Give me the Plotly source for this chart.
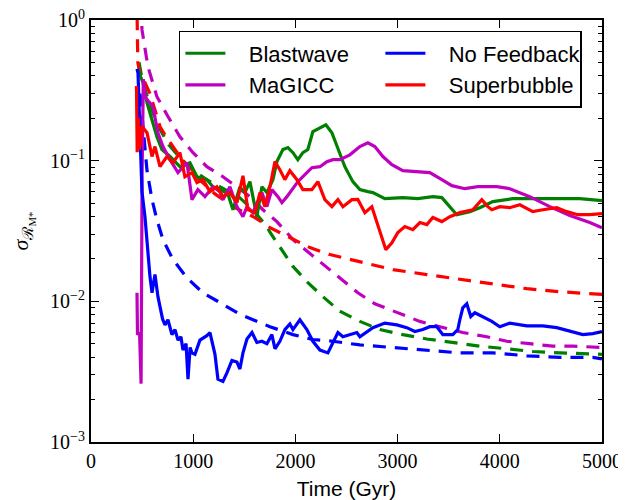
import plotly.graph_objects as go

# ---- data (time in Gyr, sigma values) ----
blast_t = [455, 509, 548, 597, 645, 694, 773, 870, 968, 1037, 1134, 1193, 1262, 1340, 1389, 1457, 1506, 1555, 1623, 1672, 1721, 1780, 1819, 1878, 1927, 1976, 2024, 2073, 2122, 2171, 2240, 2298, 2357, 2416, 2484, 2562, 2631, 2709, 2758, 2875, 3051, 3198, 3345, 3433, 3511, 3579, 3707, 3804, 3932, 4127, 4460, 4782, 5000]
blast_v = [0.45, 0.358, 0.258, 0.196, 0.148, 0.120, 0.107, 0.0906, 0.0967, 0.0769, 0.0733, 0.0653, 0.0622, 0.058, 0.0448, 0.065, 0.0593, 0.0709, 0.040, 0.0653, 0.0593, 0.0733, 0.0984, 0.120, 0.124, 0.114, 0.1016, 0.114, 0.120, 0.161, 0.172, 0.180, 0.158, 0.120, 0.0906, 0.0709, 0.0622, 0.0602, 0.0593, 0.0537, 0.0546, 0.0537, 0.0555, 0.0546, 0.0471, 0.0413, 0.0434, 0.0463, 0.0512, 0.0537, 0.0537, 0.0537, 0.0520]

magicc_t = [450, 455, 475, 490, 500, 512, 520, 535, 606, 655, 704, 773, 851, 939, 988, 1046, 1115, 1193, 1262, 1291, 1359, 1428, 1487, 1526, 1584, 1672, 1721, 1770, 1829, 1868, 1917, 1966, 2024, 2093, 2161, 2240, 2308, 2367, 2435, 2533, 2631, 2709, 2777, 2856, 2944, 3051, 3188, 3315, 3433, 3531, 3658, 3785, 3883, 3971, 4098, 4293, 4489, 4685, 4880, 5000]
magicc_v = [0.0115, 0.0058, 0.0060, 0.0026, 0.08, 0.38, 0.33, 0.28, 0.242, 0.158, 0.126, 0.1016, 0.0822, 0.0967, 0.0528, 0.0622, 0.0555, 0.0653, 0.0602, 0.0528, 0.0653, 0.0471, 0.0400, 0.0471, 0.0427, 0.0593, 0.0471, 0.0622, 0.0555, 0.0503, 0.0555, 0.0622, 0.0709, 0.0795, 0.0891, 0.0906, 0.0984, 0.1016, 0.1016, 0.110, 0.126, 0.134, 0.126, 0.107, 0.0937, 0.0849, 0.0835, 0.0822, 0.0733, 0.0664, 0.0632, 0.0653, 0.0653, 0.0653, 0.0632, 0.0555, 0.0471, 0.0407, 0.0363, 0.0334]

nofb_t = [450, 460, 479, 499, 528, 550, 577, 597, 626, 655, 700, 724, 753, 792, 822, 851, 880, 900, 930, 949, 970, 988, 1017, 1066, 1134, 1164, 1213, 1242, 1291, 1330, 1379, 1428, 1457, 1487, 1526, 1575, 1623, 1672, 1721, 1770, 1800, 1848, 1897, 1946, 1976, 2044, 2112, 2171, 2240, 2318, 2367, 2416, 2465, 2533, 2601, 2631, 2758, 2875, 2993, 3090, 3169, 3247, 3315, 3384, 3443, 3540, 3589, 3609, 3638, 3677, 3716, 3756, 3834, 3922, 4000, 4098, 4264, 4421, 4557, 4685, 4812, 4910, 5000]
nofb_v = [0.45, 0.42, 0.158, 0.060, 0.040, 0.024, 0.0150, 0.0115, 0.0155, 0.0108, 0.0075, 0.0068, 0.0074, 0.0058, 0.0063, 0.0053, 0.0056, 0.0045, 0.0050, 0.0028, 0.0047, 0.0043, 0.0042, 0.0053, 0.0057, 0.0060, 0.0042, 0.0028, 0.0027, 0.0031, 0.0038, 0.0037, 0.0033, 0.0043, 0.0054, 0.0060, 0.0051, 0.0052, 0.0050, 0.0058, 0.0046, 0.0052, 0.0063, 0.0069, 0.0063, 0.0074, 0.0063, 0.0052, 0.0045, 0.0043, 0.0051, 0.0060, 0.0056, 0.0058, 0.0060, 0.0056, 0.0065, 0.0070, 0.0068, 0.0065, 0.0061, 0.0063, 0.0066, 0.0066, 0.0058, 0.0058, 0.0063, 0.0074, 0.0090, 0.0096, 0.0078, 0.0083, 0.0078, 0.0072, 0.0066, 0.0070, 0.0067, 0.0067, 0.0065, 0.0061, 0.0058, 0.0059, 0.0061]

super_t = [445, 452, 462, 475, 499, 548, 597, 626, 675, 743, 802, 870, 919, 988, 1037, 1095, 1164, 1232, 1291, 1359, 1428, 1487, 1535, 1604, 1653, 1702, 1751, 1800, 1848, 1897, 1946, 2015, 2073, 2161, 2220, 2288, 2357, 2416, 2465, 2553, 2611, 2680, 2748, 2797, 2846, 2885, 2944, 3002, 3071, 3149, 3218, 3286, 3345, 3433, 3511, 3609, 3736, 3824, 3883, 3922, 4000, 4098, 4196, 4323, 4421, 4557, 4655, 4763, 4880, 5000]
super_v = [0.34, 0.115, 0.20, 0.12, 0.175, 0.158, 0.107, 0.126, 0.0906, 0.107, 0.0967, 0.114, 0.0769, 0.0822, 0.0698, 0.0733, 0.0602, 0.0653, 0.0555, 0.0593, 0.0503, 0.0780, 0.0448, 0.0427, 0.0593, 0.0471, 0.0653, 0.0984, 0.0863, 0.0733, 0.0849, 0.0733, 0.0622, 0.0622, 0.0709, 0.0528, 0.0471, 0.0528, 0.0471, 0.0528, 0.0530, 0.0427, 0.0471, 0.0363, 0.0288, 0.0233, 0.0261, 0.0308, 0.0340, 0.0323, 0.0363, 0.0351, 0.0394, 0.0369, 0.0400, 0.0427, 0.0448, 0.0528, 0.0471, 0.0448, 0.0471, 0.0463, 0.0486, 0.0434, 0.0448, 0.0463, 0.0434, 0.0413, 0.0413, 0.0420]

# dashed (model) curves
blast_d_t = [470, 500, 560, 650, 760, 870, 1000, 1150, 1300, 1450, 1580, 1721, 1751, 1848, 1976, 2122, 2269, 2435, 2631, 2826, 3051, 3286, 3540, 3804, 4069, 4323, 4587, 4910, 5000]
blast_d_v = [0.5, 0.38, 0.27, 0.18, 0.13, 0.105, 0.085, 0.072, 0.063, 0.055, 0.045, 0.034, 0.031, 0.0245, 0.0177, 0.0136, 0.0108, 0.0085, 0.0072, 0.0063, 0.0058, 0.0054, 0.0051, 0.0048, 0.0046, 0.0044, 0.0043, 0.0042, 0.0042]

magicc_d_t = [490, 499, 557, 645, 753, 870, 998, 1134, 1291, 1428, 1555, 1682, 1819, 1976, 2122, 2288, 2455, 2611, 2777, 2993, 3218, 3413, 3638, 3873, 4069, 4293, 4518, 4714, 4910, 5000]
magicc_d_v = [1.3, 0.85, 0.466, 0.285, 0.206, 0.148, 0.114, 0.0906, 0.0769, 0.0653, 0.0555, 0.0448, 0.0369, 0.0275, 0.0225, 0.0177, 0.0143, 0.0115, 0.0096, 0.0083, 0.0072, 0.0066, 0.0060, 0.0056, 0.0052, 0.0050, 0.0048, 0.0048, 0.0047, 0.0047]

nofb_d_t = [480, 510, 528, 548, 597, 645, 704, 802, 939, 1095, 1262, 1457, 1751, 1976, 2171, 2367, 2631, 2954, 3286, 3609, 3932, 4264, 4587, 4910, 5000]
nofb_d_v = [0.3, 0.17, 0.126, 0.085, 0.0528, 0.038, 0.0275, 0.0198, 0.0147, 0.0115, 0.0098, 0.0081, 0.0066, 0.0058, 0.00535, 0.0052, 0.0049, 0.0047, 0.0045, 0.0043, 0.0043, 0.0041, 0.0040, 0.0040, 0.0039]

super_d_t = [448, 458, 480, 520, 577, 620, 675, 730, 792, 890, 1037, 1213, 1408, 1604, 1751, 1946, 2142, 2337, 2553, 2750, 2954, 3286, 3609, 3932, 4264, 4587, 5000]
super_d_v = [1.5, 0.5, 0.41, 0.37, 0.30, 0.24, 0.175, 0.150, 0.130, 0.102, 0.076, 0.058, 0.0463, 0.0394, 0.0334, 0.0284, 0.0241, 0.0215, 0.0198, 0.0182, 0.0168, 0.0155, 0.0143, 0.0132, 0.0123, 0.0117, 0.0112]

names = ["Blastwave", "MaGICC", "No Feedback", "Superbubble"]
colors = ["#008000", "#BF00BF", "#0000FF", "#FF0000"]
ranks = [1, 3, 2, 4]
solid = [(blast_t, blast_v), (magicc_t, magicc_v), (nofb_t, nofb_v), (super_t, super_v)]
dashed = [(blast_d_t, blast_d_v), (magicc_d_t, magicc_d_v), (nofb_d_t, nofb_d_v), (super_d_t, super_d_v)]

fig = go.Figure()
for (t, v), c in zip(dashed, colors):
    fig.add_trace(go.Scatter(x=t, y=v, mode="lines", showlegend=False,
                             line=dict(color=c, width=3.2, dash="13px,9px")))
pad = "\u00a0\u00a0\u00a0"
for (t, v), c, n, r in zip(solid, colors, names, ranks):
    fig.add_trace(go.Scatter(x=t, y=v, mode="lines", name=pad + n, legendrank=r,
                             line=dict(color=c, width=3.2)))

ytick_vals = [0.001, 0.01, 0.1, 1]
ytick_text = ["10<sup>−3</sup>", "10<sup>−2</sup>", "10<sup>−1</sup>", "10<sup>0</sup>"]
minor_vals = [m * d for d in [0.001, 0.01, 0.1] for m in range(2, 10)]
xtick_vals = [0, 1000, 2000, 3000, 4000, 5000]

serif = "Liberation Serif, DejaVu Serif, serif"
sans = "Liberation Sans, Arial, sans-serif"

# the page body adds an 8px margin, so the figure is sized to fit the window
fig.update_layout(
    width=618, height=492,
    margin=dict(l=83, r=24, t=12, b=58),
    plot_bgcolor="white", paper_bgcolor="white",
    showlegend=True,
    legend=dict(orientation="h", x=0.172, xanchor="left", y=0.974, yanchor="top",
                entrywidth=145, entrywidthmode="pixels", itemwidth=40,
                bordercolor="black", borderwidth=1.5, bgcolor="white",
                font=dict(family=sans, size=22, color="black"),
                tracegroupgap=0),
    xaxis=dict(range=[0, 5000], tickvals=xtick_vals, ticks="inside", ticklen=8,
               tickwidth=1.2, tickcolor="black", showline=True, linecolor="black",
               linewidth=2, mirror="allticks", showgrid=False, zeroline=False,
               automargin=False, ticklabeloverflow="allow",
               tickfont=dict(family=serif, size=20, color="black"),
               title=dict(text="Time (Gyr)", font=dict(family=sans, size=21, color="black"),
                          standoff=10)),
    yaxis=dict(type="log", range=[-3, 0], tickvals=ytick_vals, ticktext=ytick_text,
               ticks="inside", ticklen=8, tickwidth=1.2, tickcolor="black",
               showline=True, linecolor="black", linewidth=2, mirror="allticks",
               showgrid=False, zeroline=False, automargin=False,
               ticklabeloverflow="allow",
               minor=dict(tickvals=minor_vals, ticks="inside", ticklen=4,
                          tickwidth=1, tickcolor="black", showgrid=False),
               tickfont=dict(family=serif, size=20, color="black"),
               title=dict(text="<i>σ</i><sub>ℛ<sub>M*</sub></sub>",
                          font=dict(family=serif, size=22, color="black"),
                          standoff=20)),
)

fig.write_html("out.html")
